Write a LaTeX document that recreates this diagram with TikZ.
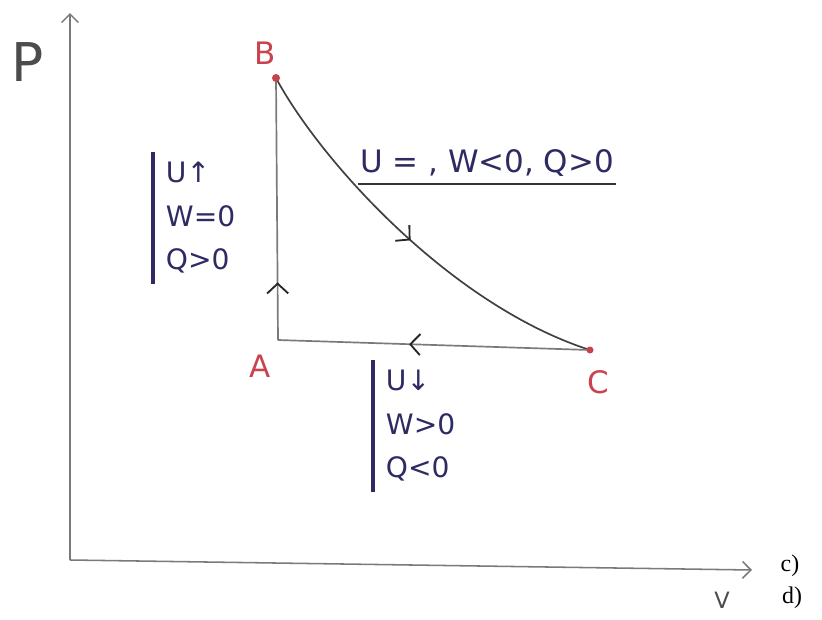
\documentclass[tikz,border=0pt]{standalone}
\usepackage{fontspec}
\setmainfont{DejaVu Sans}
\newfontfamily\printfont{Liberation Serif}
\usepackage{tikz}
\usetikzlibrary{arrows.meta,decorations.markings}
\definecolor{inkred}{HTML}{C8434E}
\definecolor{inknavy}{HTML}{2E2B63}
\definecolor{pencil}{HTML}{7A7A7A}

\tikzset{
  axis/.style={pencil,line width=1.1pt,-{Straight Barb[length=6pt,width=12pt]}},
  stage/.style={pencil,line width=1.2pt},
  midarrow/.style={postaction={decorate},decoration={markings,
    mark=at position #1 with {\arrow[black!85,line width=1.3pt]{Straight Barb[length=7pt,width=15pt]}}}},
  statelabel/.style={inkred,font=\fontsize{22}{22}\selectfont,inner sep=0pt},
  note/.style={inknavy,align=left,font=\fontsize{20}{31}\selectfont,inner xsep=9pt,inner ysep=7pt},
  bar/.style={inknavy,line width=2.2pt},
  rule/.style={black!80,line width=1.3pt},
  printed/.style={font=\printfont\fontsize{17}{17}\selectfont,inner sep=0pt}
}

\begin{document}
\begin{tikzpicture}[x=0.025cm,y=-0.025cm]
\useasboundingbox (0,0) rectangle (822,619);
% axes
\coordinate (O) at (70,560);
\coordinate (Ptop) at (70,13);
\coordinate (Vend) at (752,570);
\draw[axis] (O) -- (Ptop);
\draw[axis] (O) -- (Vend);
\node[black!70,font=\fontsize{38}{38}\selectfont,inner sep=0pt] (labelP) at (28,62) {P};
\node[black!70,font=\fontsize{16}{16}\selectfont,inner sep=0pt] (labelV) at (722,600) {V};

% states of the cycle
\coordinate (A) at (278,340);
\coordinate (B) at (276,78);
\coordinate (C) at (590,350);
\draw[stage,midarrow=0.22] (A) -- (B);
\draw[stage,black!75,midarrow=0.5] (B) .. controls (320,160) and (450,305) .. (C);
\draw[stage,midarrow=0.58] (C) -- (A);
\fill[inkred] (B) circle (4);
\fill[inkred] (C) circle (3.5);
\node[statelabel] (labelB) at (265,53) {B};
\node[statelabel] (labelA) at (260,366) {A};
\node[statelabel] (labelC) at (598,382) {C};

% notes on each step
\node[note,anchor=north west] (noteAB) at (153,152) {U↑\\W=0\\Q>0};
\draw[bar] (noteAB.north west) -- (noteAB.south west);
\node[note,anchor=north west] (noteCA) at (373,360) {U↓\\W>0\\Q<0};
\draw[bar] (noteCA.north west) -- (noteCA.south west);
\node[note,font=\fontsize{22}{22}\selectfont,inner xsep=1pt,inner ysep=5pt] (noteBC) at (487,163) {U = , W<0, Q>0};
\draw[rule] (noteBC.south west) -- (noteBC.south east);

% item marks
\node[printed] (markC) at (790,566) {c)};
\node[printed] (markD) at (792,598) {d)};
\end{tikzpicture}
\end{document}
